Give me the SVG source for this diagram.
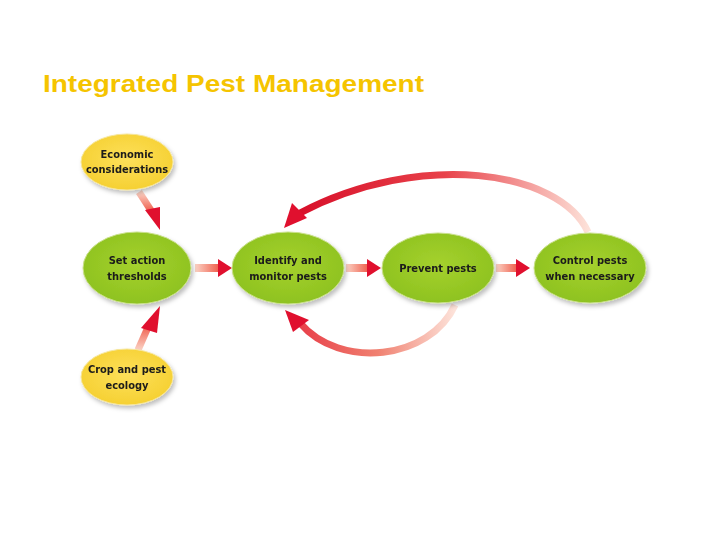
<svg xmlns="http://www.w3.org/2000/svg" width="720" height="540" viewBox="0 0 720 540">
<defs>
<style>
.t{font-family:"DejaVu Sans Condensed","Liberation Sans",sans-serif;font-size:11px;font-weight:bold;fill:#1a1a1a;text-anchor:middle}
.g{fill:url(#gg);stroke:#c9e08a;stroke-width:1}
.y{fill:url(#yg);stroke:#f6e69a;stroke-width:1}
.h{fill:#e0102e}
.s{fill:url(#hx)}
</style>
<radialGradient id="gg" cx="0.5" cy="0.45" r="0.6"><stop offset="0" stop-color="#a5d12e"/><stop offset="1" stop-color="#8cc11e"/></radialGradient>
<radialGradient id="yg" cx="0.5" cy="0.45" r="0.6"><stop offset="0" stop-color="#fde05a"/><stop offset="1" stop-color="#f5cf2f"/></radialGradient>
<linearGradient id="hx" x1="0" x2="1" y1="0" y2="0"><stop offset="0" stop-color="#fbd3c5"/><stop offset="1" stop-color="#ef5a48"/></linearGradient>
<linearGradient id="vd" x1="0" x2="0" y1="0" y2="1"><stop offset="0" stop-color="#fbd3c5"/><stop offset="1" stop-color="#ef5a48"/></linearGradient>
<linearGradient id="vu" x1="0" x2="0" y1="1" y2="0"><stop offset="0" stop-color="#fbd3c5"/><stop offset="1" stop-color="#ef5a48"/></linearGradient>
<linearGradient id="top" gradientUnits="userSpaceOnUse" x1="590" y1="0" x2="300" y2="0"><stop offset="0" stop-color="#fde3da"/><stop offset="0.5" stop-color="#e8424a"/><stop offset="1" stop-color="#d8102a"/></linearGradient>
<linearGradient id="bot" gradientUnits="userSpaceOnUse" x1="455" y1="0" x2="300" y2="0"><stop offset="0" stop-color="#fde3da"/><stop offset="0.5" stop-color="#f08070"/><stop offset="1" stop-color="#e8404a"/></linearGradient>
<filter id="sh" x="-20%" y="-20%" width="150%" height="150%"><feDropShadow dx="2" dy="3" stdDeviation="2" flood-color="#000" flood-opacity="0.25"/></filter>
</defs>
<rect width="720" height="540" fill="#fff"/>
<text x="43" y="92" font-family="Liberation Sans,Arial,sans-serif" font-size="24" font-weight="bold" fill="#f5c400" textLength="381" lengthAdjust="spacingAndGlyphs">Integrated Pest Management</text>
<g id="connectors">
<path d="M139 192 L152 212" stroke="url(#vd)" stroke-width="7" fill="none"/>
<polygon class="h" points="145,210 160,207 160,230"/>
<path d="M138 350 L149 325" stroke="url(#vu)" stroke-width="7" fill="none"/>
<polygon class="h" points="141,328 160,306 157,333"/>
<rect class="s" x="195" y="264" width="25" height="8"/>
<polygon class="h" points="218,259 232,268 218,277"/>
<rect class="s" x="346" y="264" width="23" height="8"/>
<polygon class="h" points="367,259 381,268 367,277"/>
<rect class="s" x="496" y="264" width="22" height="8"/>
<polygon class="h" points="516,259 530,268 516,277"/>
<path d="M588 232 C560 170 420 150 300 213" stroke="url(#top)" stroke-width="7" fill="none"/>
<polygon class="h" points="292,203 307,218 284,228"/>
<path d="M455 305 C430 360 340 370 300 323" stroke="url(#bot)" stroke-width="7" fill="none"/>
<polygon class="h" points="293,332 309,320 285,310"/>
</g>
<g id="economic" filter="url(#sh)"><ellipse class="y" cx="127" cy="162" rx="46" ry="28"/><text class="t" x="127" y="158">Economic</text><text class="t" x="127" y="173">considerations</text></g>
<g id="crop" filter="url(#sh)"><ellipse class="y" cx="127" cy="377" rx="46" ry="28"/><text class="t" x="127" y="373">Crop and pest</text><text class="t" x="127" y="389">ecology</text></g>
<g id="set" filter="url(#sh)"><ellipse class="g" cx="137" cy="268" rx="54" ry="36"/><text class="t" x="137" y="264">Set action</text><text class="t" x="137" y="280">thresholds</text></g>
<g id="identify" filter="url(#sh)"><ellipse class="g" cx="288" cy="268" rx="56" ry="36"/><text class="t" x="288" y="264">Identify and</text><text class="t" x="288" y="280">monitor pests</text></g>
<g id="prevent" filter="url(#sh)"><ellipse class="g" cx="438" cy="268" rx="56" ry="35"/><text class="t" x="438" y="272">Prevent pests</text></g>
<g id="control" filter="url(#sh)"><ellipse class="g" cx="590" cy="268" rx="56" ry="35"/><text class="t" x="590" y="264">Control pests</text><text class="t" x="590" y="280">when necessary</text></g>
</svg>
